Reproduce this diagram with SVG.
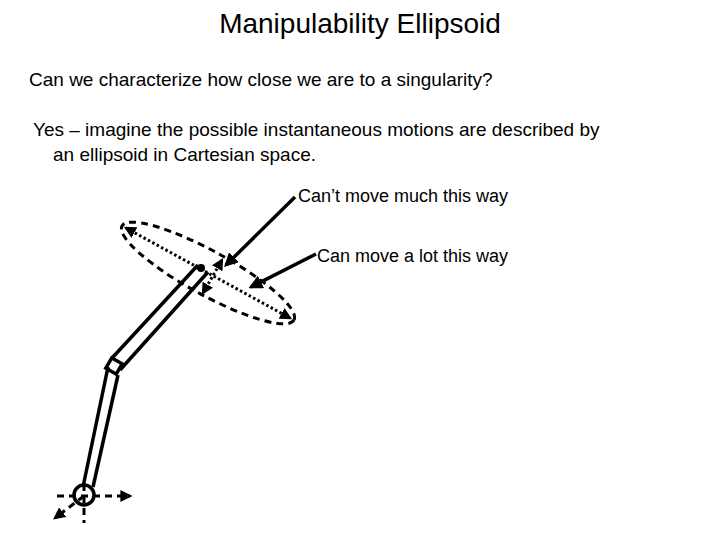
<svg xmlns="http://www.w3.org/2000/svg" width="720" height="540" viewBox="0 0 720 540">
<style>
text{font-family:"Liberation Sans",Arial,sans-serif;fill:#000}
.s{stroke:#000;fill:none;stroke-width:3.5}
.d{stroke:#000;fill:none;stroke-width:3;stroke-dasharray:7 5}
.o{stroke:#000;fill:none;stroke-width:3;stroke-dasharray:2.5 2.5}
</style>
<defs>
<marker id="a" viewBox="0 0 10 10" refX="8" refY="5" markerWidth="4" markerHeight="4" orient="auto-start-reverse"><path d="M0,0L10,5L0,10z"/></marker>
</defs>
<rect width="720" height="540" fill="#fff"/>
<text x="360" y="33" font-size="28" text-anchor="middle">Manipulability Ellipsoid</text>
<text x="29" y="86" font-size="19">Can we characterize how close we are to a singularity?</text>
<text x="33" y="136" font-size="19">Yes – imagine the possible instantaneous motions are described by</text>
<text x="53" y="161" font-size="19">an ellipsoid in Cartesian space.</text>
<g id="label1"><text x="298" y="202" font-size="18">Can’t move much this way</text></g>
<g id="label2"><text x="317" y="262" font-size="18">Can move a lot this way</text></g>
<g id="ellipse">
<ellipse cx="208" cy="273" rx="98" ry="22" transform="rotate(28.7 208 273)" class="d"/>
<line x1="126" y1="228" x2="290" y2="318" class="o" marker-start="url(#a)" marker-end="url(#a)"/>
<line x1="222" y1="260" x2="203" y2="293" class="o" marker-start="url(#a)" marker-end="url(#a)"/>
</g>
<g id="arm">
<line x1="113" y1="357" x2="198" y2="265" class="s"/>
<line x1="120" y1="370" x2="208" y2="272" class="s"/>
<line x1="108" y1="367" x2="83" y2="487" class="s"/>
<line x1="118" y1="375" x2="93" y2="487" class="s"/>
<rect x="108" y="360" width="12" height="12" transform="rotate(30 114 366)" class="s" fill="#fff"/>
<circle cx="201" cy="268" r="4" fill="#000"/>
<circle cx="84" cy="495" r="10" class="s"/>
<line x1="57" y1="496" x2="130" y2="496" class="d" stroke-width="2" marker-end="url(#a)"/>
<line x1="84" y1="484" x2="84" y2="523" class="d" stroke-width="2"/>
<line x1="84" y1="496" x2="55" y2="518" class="d" stroke-width="2" marker-end="url(#a)"/>
</g>
<g id="connectors">
<line x1="295" y1="197" x2="226" y2="265" class="s" stroke-width="3" marker-end="url(#a)"/>
<line x1="316" y1="254" x2="251" y2="287" class="s" stroke-width="3" marker-end="url(#a)"/>
</g>
</svg>
